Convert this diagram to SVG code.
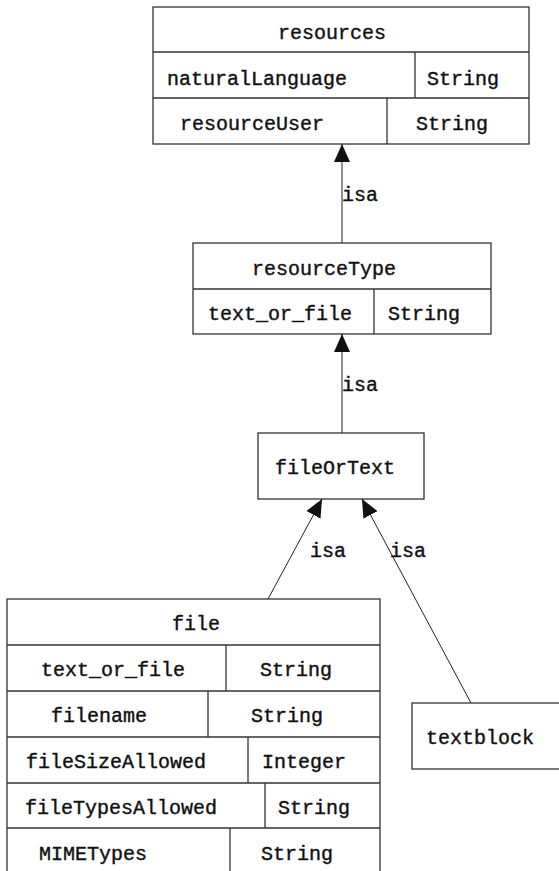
<svg xmlns="http://www.w3.org/2000/svg" width="559" height="871" viewBox="0 0 559 871">
<style>
rect.b,line.d{fill:#fff;stroke:#333;stroke-width:1.3}
line.d{fill:none}
text{font-family:"Liberation Mono","DejaVu Sans Mono",monospace;font-size:20px;fill:#111;stroke:#111;stroke-width:0.4;text-anchor:middle}
.e line{stroke:#222;stroke-width:1}
.e text{text-anchor:start}
</style>
<defs>
<marker id="ah" viewBox="0 0 18 16" refX="18" refY="8" markerWidth="18" markerHeight="16" markerUnits="userSpaceOnUse" orient="auto">
<path d="M0,0 L18,8 L0,16 Z" fill="#111"/>
</marker>
</defs>
<rect width="559" height="871" fill="#fff"/>
<g id="resources">
<rect class="b" x="153" y="7" width="376" height="137"/>
<line class="d" x1="153" y1="52" x2="529" y2="52"/>
<line class="d" x1="153" y1="98" x2="529" y2="98"/>
<line class="d" x1="415" y1="52" x2="415" y2="98"/>
<line class="d" x1="387" y1="98" x2="387" y2="144"/>
<text x="332" y="39">resources</text>
<text x="257" y="85">naturalLanguage</text>
<text x="463" y="85">String</text>
<text x="252" y="130">resourceUser</text>
<text x="452" y="130">String</text>
</g>
<g id="resourceType">
<rect class="b" x="193" y="243" width="298" height="91"/>
<line class="d" x1="193" y1="289" x2="491" y2="289"/>
<line class="d" x1="374" y1="289" x2="374" y2="334"/>
<text x="324" y="275">resourceType</text>
<text x="280" y="320">text_or_file</text>
<text x="424" y="320">String</text>
</g>
<g id="fileOrText">
<rect class="b" x="258" y="433" width="166" height="66"/>
<text x="335" y="474">fileOrText</text>
</g>
<g id="file">
<rect class="b" x="7" y="599" width="373" height="290"/>
<line class="d" x1="7" y1="645" x2="380" y2="645"/>
<line class="d" x1="7" y1="691" x2="380" y2="691"/>
<line class="d" x1="7" y1="737" x2="380" y2="737"/>
<line class="d" x1="7" y1="783" x2="380" y2="783"/>
<line class="d" x1="7" y1="828" x2="380" y2="828"/>
<line class="d" x1="226" y1="645" x2="226" y2="691"/>
<line class="d" x1="208" y1="691" x2="208" y2="737"/>
<line class="d" x1="248" y1="737" x2="248" y2="783"/>
<line class="d" x1="265" y1="783" x2="265" y2="828"/>
<line class="d" x1="230" y1="828" x2="230" y2="880"/>
<text x="196" y="630">file</text>
<text x="113" y="676">text_or_file</text>
<text x="296" y="676">String</text>
<text x="99" y="722">filename</text>
<text x="287" y="722">String</text>
<text x="116" y="768">fileSizeAllowed</text>
<text x="304" y="768">Integer</text>
<text x="121" y="814">fileTypesAllowed</text>
<text x="314" y="814">String</text>
<text x="93" y="860">MIMETypes</text>
<text x="297" y="860">String</text>
</g>
<g id="textblock">
<rect class="b" x="412" y="703" width="160" height="66"/>
<text x="480" y="744">textblock</text>
</g>
<g class="e" id="connectors">
<line x1="342" y1="243" x2="342" y2="144" marker-end="url(#ah)"/>
<text x="342" y="201">isa</text>
<line x1="342" y1="433" x2="342" y2="334" marker-end="url(#ah)"/>
<text x="342" y="391">isa</text>
<line x1="268" y1="599" x2="322" y2="499" marker-end="url(#ah)"/>
<text x="310" y="557">isa</text>
<line x1="471" y1="703" x2="362" y2="499" marker-end="url(#ah)"/>
<text x="390" y="557">isa</text>
</g>
</svg>
